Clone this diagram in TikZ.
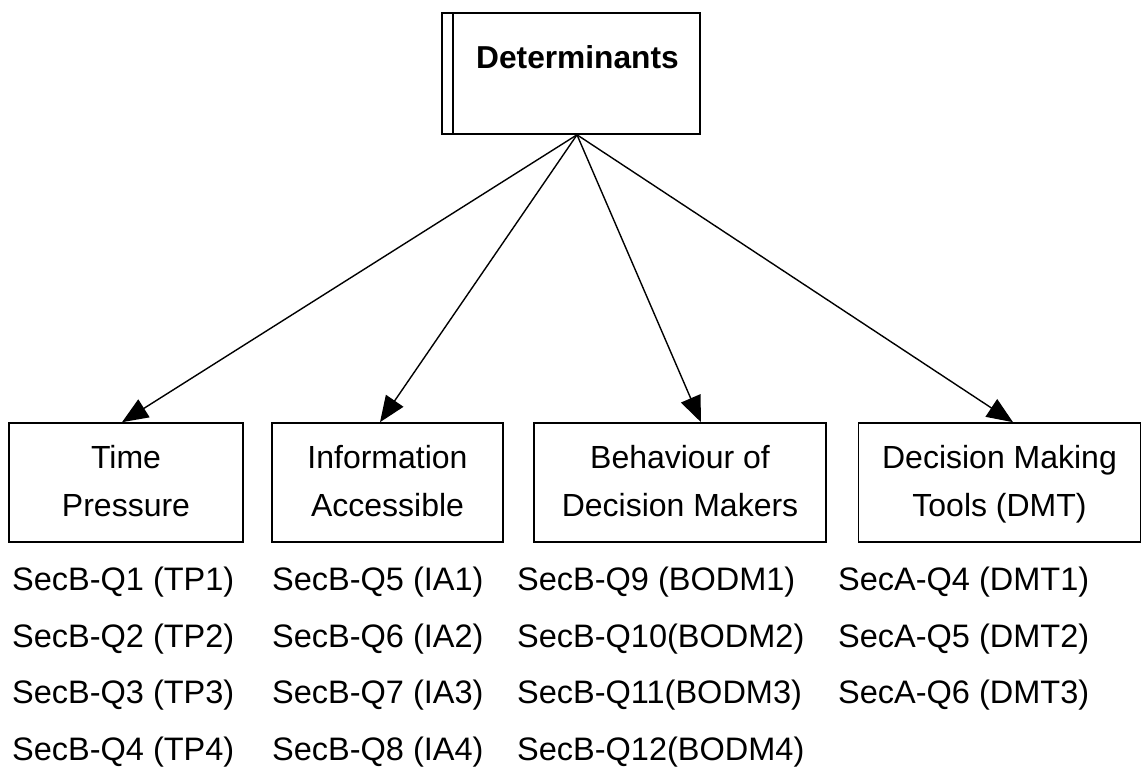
\documentclass[tikz,border=0pt]{standalone}
\usepackage{fontspec}
\setmainfont{Liberation Sans}
\usetikzlibrary{arrows.meta}
\begin{document}
\begin{tikzpicture}[x=1pt,y=-1pt,
  boxstyle/.style={draw,line width=1.6pt,inner sep=0pt,align=center,
    font=\fontsize{32}{48}\selectfont},
  arr/.style={line width=1.4pt,-{Triangle[length=26pt,width=21pt]}},
  item/.style={anchor=base west,inner sep=0pt,font=\fontsize{32.5}{38}\selectfont}]
\useasboundingbox (0,0) rectangle (1142,767);
% top box
\node[draw,line width=1.6pt,minimum width=258pt,minimum height=121pt,inner sep=0pt] (det) at (571,73.5) {};
\draw[line width=1.6pt] ([xshift=12pt]det.north west) -- ([xshift=12pt]det.south west);
\node[anchor=base,inner sep=0pt,font=\fontsize{31.7}{38}\selectfont\bfseries] (dett) at (577.5,69) {Determinants};
\coordinate (src) at ([xshift=6pt]det.south);
% lower boxes
\node[boxstyle,minimum width=234pt,minimum height=119pt] (tp) at (126,482.5) {\strut Time\\\strut Pressure};
\node[boxstyle,minimum width=231pt,minimum height=119pt] (ia) at (387.5,482.5) {\strut Information\\\strut Accessible};
\node[boxstyle,minimum width=292pt,minimum height=119pt] (bo) at (680,482.5) {\strut Behaviour of\\\strut Decision Makers};
\node[boxstyle,minimum width=282pt,minimum height=119pt] (dm) at (999.5,482.5) {\strut Decision Making\\\strut Tools (DMT)};
% arrows
\draw[arr] (src) -- ([xshift=-4pt]tp.north);
\draw[arr] (src) -- ([xshift=-7.5pt]ia.north);
\draw[arr] (src) -- ([xshift=21pt]bo.north);
\draw[arr] (src) -- ([xshift=13.5pt]dm.north);
% lists
\node[item] (a1) at (12,590) {SecB-Q1 (TP1)};
\node[item] (a2) at (12,647) {SecB-Q2 (TP2)};
\node[item] (a3) at (12,703) {SecB-Q3 (TP3)};
\node[item] (a4) at (12,760) {SecB-Q4 (TP4)};
\node[item] (b1) at (272,590) {SecB-Q5 (IA1)};
\node[item] (b2) at (272,647) {SecB-Q6 (IA2)};
\node[item] (b3) at (272,703) {SecB-Q7 (IA3)};
\node[item] (b4) at (272,760) {SecB-Q8 (IA4)};
\node[item] (c1) at (517,590) {SecB-Q9 (BODM1)};
\node[item] (c2) at (517,647) {SecB-Q10(BODM2)};
\node[item] (c3) at (517,703) {SecB-Q11(BODM3)};
\node[item] (c4) at (517,760) {SecB-Q12(BODM4)};
\node[item] (d1) at (838,590) {SecA-Q4 (DMT1)};
\node[item] (d2) at (838,647) {SecA-Q5 (DMT2)};
\node[item] (d3) at (838,703) {SecA-Q6 (DMT3)};
\end{tikzpicture}
\end{document}
